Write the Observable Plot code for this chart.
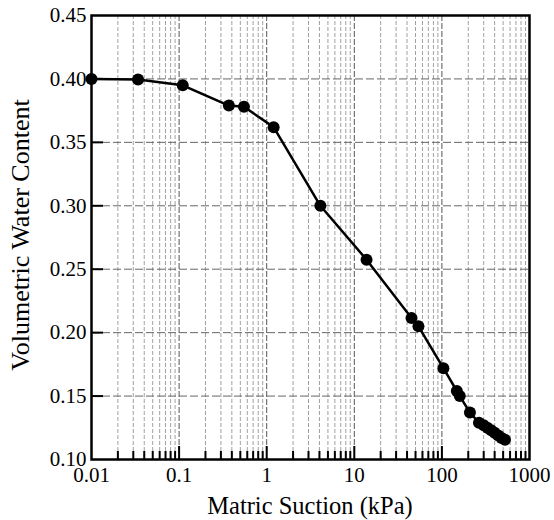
<!DOCTYPE html>
<html>
<head>
<meta charset="utf-8">
<script src="https://cdn.jsdelivr.net/npm/d3@7"></script>
<script src="https://cdn.jsdelivr.net/npm/@observablehq/plot@0.6"></script>
<style>
  html, body { margin: 0; padding: 0; background: #fff; }
  #chart svg { display: block; }
  #chart svg text { font-family: 'Liberation Serif', 'Times New Roman', serif !important; }
</style>
</head>
<body>
<div id="chart"></div>
<script>
// Data
const suction = [0.01, 0.034, 0.11, 0.37, 0.55, 1.2, 4.1, 13.8, 45, 54, 104, 148, 160, 209, 265, 300, 330, 365, 400, 440, 480, 525];
const waterContent = [0.400, 0.3995, 0.395, 0.379, 0.378, 0.362, 0.300, 0.2575, 0.2115, 0.205, 0.172, 0.154, 0.150, 0.137, 0.129, 0.127, 0.125, 0.123, 0.121, 0.119, 0.117, 0.1155];

const xDecades = [0.01, 0.1, 1, 10, 100, 1000];
const xTickLabels = ["0.01", "0.1", "1", "10", "100", "1000"];
const yTicks = [0.10, 0.15, 0.20, 0.25, 0.30, 0.35, 0.40, 0.45];
const yTickLabels = ["0.10", "0.15", "0.20", "0.25", "0.30", "0.35", "0.40", "0.45"];
const minorMultipliers = [2, 3, 4, 5, 6, 7, 8, 9];

const xMinor = xDecades.slice(0, -1).flatMap(d => minorMultipliers.map(m => +(d * m).toPrecision(3)));
const xInnerDecades = xDecades.slice(1, -1);
const yInner = yTicks.slice(1, -1);

const data = suction.map((s, i) => ({s, w: waterContent[i]}));

const font = "'Liberation Serif', 'Times New Roman', serif";

const chart = Plot.plot({
  width: 554,
  height: 520,
  marginLeft: 91,
  marginRight: 25,
  marginTop: 15,
  marginBottom: 61,
  style: {fontFamily: font, fontSize: "21px", color: "#000", background: "#fff"},
  x: {type: "log", domain: [0.01, 1000]},
  y: {domain: [0.10, 0.45]},
  marks: [
    // vertical grid at minor log positions
    Plot.ruleX(xMinor, {stroke: "#888", strokeWidth: 0.8, strokeDasharray: "4,2"}),
    Plot.ruleX(xInnerDecades, {stroke: "#555", strokeWidth: 1, strokeDasharray: "6,2"}),
    // horizontal grid
    Plot.ruleY(yInner, {stroke: "#666", strokeWidth: 1, strokeDasharray: "8,3"}),
    // inward ticks on bottom axis
    Plot.ruleX(xMinor, {y1: 0.10, y2: 0.10, insetTop: -8, stroke: "#000", strokeWidth: 2}),
    Plot.ruleX(xInnerDecades, {y1: 0.10, y2: 0.10, insetTop: -13, stroke: "#000", strokeWidth: 2}),
    // inward ticks on left axis
    Plot.ruleY(yInner, {x1: 0.01, x2: 0.01, insetRight: -12, stroke: "#000", strokeWidth: 2}),
    Plot.frame({stroke: "#000", strokeWidth: 2.5}),
    Plot.axisX({
      ticks: xDecades,
      tickFormat: d => xTickLabels[xDecades.indexOf(d)],
      tickSize: 0,
      tickPadding: 8,
      fontSize: 21,
      fontFamily: font,
      label: null
    }),
    Plot.axisY({
      ticks: yTicks,
      tickFormat: d => yTickLabels[yTicks.findIndex(t => Math.abs(t - d) < 1e-9)],
      tickSize: 0,
      tickPadding: 5,
      fontSize: 21,
      fontFamily: font,
      label: null
    }),
    Plot.line(data, {x: "s", y: "w", stroke: "#000", strokeWidth: 2.5}),
    Plot.dot(data, {x: "s", y: "w", r: 6, fill: "#000", stroke: "none"})
  ]
});

// axis titles as real text in the svg
const svgNS = "http://www.w3.org/2000/svg";
function addText(str, attrs) {
  const t = document.createElementNS(svgNS, "text");
  for (const [k, v] of Object.entries(attrs)) t.setAttribute(k, v);
  t.textContent = str;
  chart.appendChild(t);
}
addText("Matric Suction (kPa)", {x: 91 + (554 - 25 - 91) / 2, y: 514, "text-anchor": "middle", "font-size": 24.5, "font-family": font, fill: "#000"});
addText("Volumetric Water Content", {transform: `translate(29, ${15 + (520 - 61 - 15) / 2 - 2}) rotate(-90)`, "text-anchor": "middle", "font-size": 26, "font-family": font, fill: "#000"});

chart.querySelectorAll("text").forEach(t => { t.style.fontFamily = font; });

document.getElementById("chart").appendChild(chart);
</script>
</body>
</html>
